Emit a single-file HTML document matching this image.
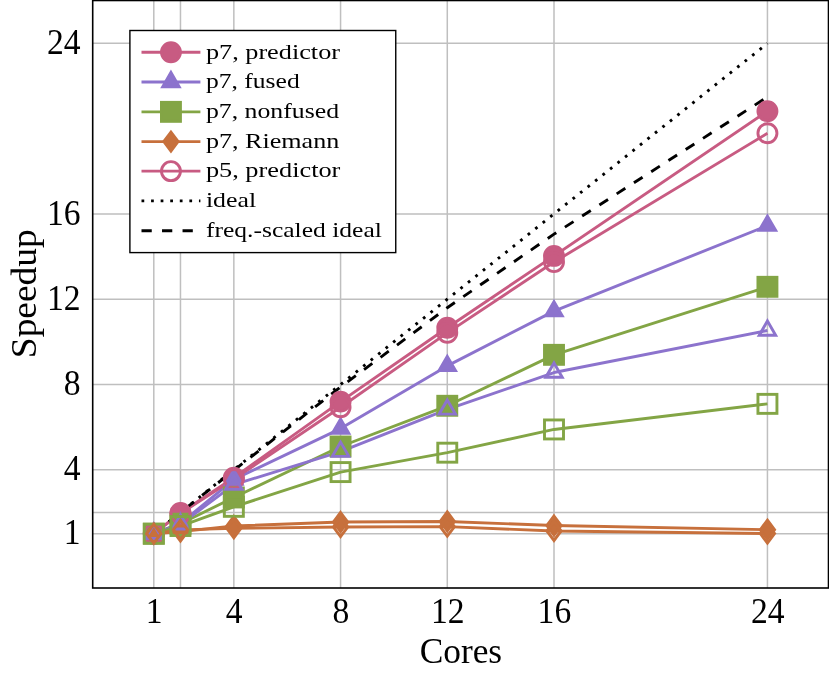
<!DOCTYPE html>
<html><head><meta charset="utf-8"><title>Speedup</title>
<style>html,body{margin:0;padding:0;background:#fff}svg{display:block}</style></head>
<body>
<svg width="829" height="674" viewBox="0 0 829 674" style="display:block">
<rect width="829" height="674" fill="#fff"/>
<path d="M153.8 0.5V588.0M180.48 0.5V588.0M233.84 0.5V588.0M340.56 0.5V588.0M447.28 0.5V588.0M554 0.5V588.0M767.44 0.5V588.0M92.7 533.7H828.5M92.7 512.38H828.5M92.7 469.74H828.5M92.7 384.46H828.5M92.7 299.18H828.5M92.7 213.9H828.5M92.7 43.34H828.5" stroke="#BFBFBF" stroke-width="1.5" fill="none"/>
<polyline points="153.8,533.7 180.48,512.91 233.84,477.63 340.56,401.62 447.28,327.75 554,255.9 767.44,111.14" fill="none" stroke="#C85B82" stroke-width="2.9" stroke-linejoin="round"/>
<polyline points="153.8,533.7 180.48,523.47 233.84,479.55 340.56,428.59 447.28,365.91 554,311.12 767.44,225.63" fill="none" stroke="#8C73CD" stroke-width="2.9" stroke-linejoin="round"/>
<polyline points="153.8,533.7 180.48,523.68 233.84,497.46 340.56,446.5 447.28,405.78 554,354.83 767.44,286.81" fill="none" stroke="#83A545" stroke-width="2.9" stroke-linejoin="round"/>
<polyline points="153.8,533.7 180.48,531.57 233.84,526.02 340.56,522.04 447.28,521.44 554,525.53 767.44,529.65" fill="none" stroke="#C7703C" stroke-width="2.9" stroke-linejoin="round"/>
<polyline points="153.8,533.7 180.48,513.45 233.84,479.12 340.56,407.27 447.28,332.87 554,262.08 767.44,133.31" fill="none" stroke="#C85B82" stroke-width="2.9" stroke-linejoin="round"/>
<polyline points="153.8,533.7 180.48,524.32 233.84,484.66 340.56,451.62 447.28,409.4 554,372.52 767.44,330.52" fill="none" stroke="#8C73CD" stroke-width="2.9" stroke-linejoin="round"/>
<polyline points="153.8,533.7 180.48,526.02 233.84,506.84 340.56,472.09 447.28,452.68 554,429.45 767.44,403.86" fill="none" stroke="#83A545" stroke-width="2.9" stroke-linejoin="round"/>
<polyline points="153.8,533.7 180.48,529.86 233.84,528.37 340.56,527.05 447.28,526.66 554,530.97 767.44,533.61" fill="none" stroke="#C7703C" stroke-width="2.9" stroke-linejoin="round"/>
<polyline points="153.8,533.7 180.48,512.38 233.84,469.74 340.56,384.46 447.28,299.18 554,213.9 767.44,43.34" fill="none" stroke="#000" stroke-width="2.9" stroke-dasharray="2.74 6.835"/>
<polyline points="153.8,533.7 180.48,512.49 233.84,470.38 340.56,387.02 447.28,307.71 554,234.15 767.44,96.96" fill="none" stroke="#000" stroke-width="2.9" stroke-dasharray="10.26 10.26"/>
<circle cx="153.8" cy="533.7" r="9.5" fill="#C85B82" stroke="#C85B82" stroke-width="2.9" stroke-linejoin="miter" stroke-miterlimit="10"/>
<circle cx="180.48" cy="512.91" r="9.5" fill="#C85B82" stroke="#C85B82" stroke-width="2.9" stroke-linejoin="miter" stroke-miterlimit="10"/>
<circle cx="233.84" cy="477.63" r="9.5" fill="#C85B82" stroke="#C85B82" stroke-width="2.9" stroke-linejoin="miter" stroke-miterlimit="10"/>
<circle cx="340.56" cy="401.62" r="9.5" fill="#C85B82" stroke="#C85B82" stroke-width="2.9" stroke-linejoin="miter" stroke-miterlimit="10"/>
<circle cx="447.28" cy="327.75" r="9.5" fill="#C85B82" stroke="#C85B82" stroke-width="2.9" stroke-linejoin="miter" stroke-miterlimit="10"/>
<circle cx="554" cy="255.9" r="9.5" fill="#C85B82" stroke="#C85B82" stroke-width="2.9" stroke-linejoin="miter" stroke-miterlimit="10"/>
<circle cx="767.44" cy="111.14" r="9.5" fill="#C85B82" stroke="#C85B82" stroke-width="2.9" stroke-linejoin="miter" stroke-miterlimit="10"/>
<path d="M153.8 524.2L162.03 538.45L145.57 538.45Z" fill="#8C73CD" stroke="#8C73CD" stroke-width="2.9" stroke-linejoin="miter" stroke-miterlimit="10"/>
<path d="M180.48 513.97L188.71 528.22L172.25 528.22Z" fill="#8C73CD" stroke="#8C73CD" stroke-width="2.9" stroke-linejoin="miter" stroke-miterlimit="10"/>
<path d="M233.84 470.05L242.07 484.3L225.61 484.3Z" fill="#8C73CD" stroke="#8C73CD" stroke-width="2.9" stroke-linejoin="miter" stroke-miterlimit="10"/>
<path d="M340.56 419.09L348.79 433.34L332.33 433.34Z" fill="#8C73CD" stroke="#8C73CD" stroke-width="2.9" stroke-linejoin="miter" stroke-miterlimit="10"/>
<path d="M447.28 356.41L455.51 370.66L439.05 370.66Z" fill="#8C73CD" stroke="#8C73CD" stroke-width="2.9" stroke-linejoin="miter" stroke-miterlimit="10"/>
<path d="M554 301.62L562.23 315.87L545.77 315.87Z" fill="#8C73CD" stroke="#8C73CD" stroke-width="2.9" stroke-linejoin="miter" stroke-miterlimit="10"/>
<path d="M767.44 216.13L775.67 230.38L759.21 230.38Z" fill="#8C73CD" stroke="#8C73CD" stroke-width="2.9" stroke-linejoin="miter" stroke-miterlimit="10"/>
<rect x="144.3" y="524.2" width="19.0" height="19.0" fill="#83A545" stroke="#83A545" stroke-width="2.9" stroke-linejoin="miter" stroke-miterlimit="10"/>
<rect x="170.98" y="514.18" width="19.0" height="19.0" fill="#83A545" stroke="#83A545" stroke-width="2.9" stroke-linejoin="miter" stroke-miterlimit="10"/>
<rect x="224.34" y="487.96" width="19.0" height="19.0" fill="#83A545" stroke="#83A545" stroke-width="2.9" stroke-linejoin="miter" stroke-miterlimit="10"/>
<rect x="331.06" y="437" width="19.0" height="19.0" fill="#83A545" stroke="#83A545" stroke-width="2.9" stroke-linejoin="miter" stroke-miterlimit="10"/>
<rect x="437.78" y="396.28" width="19.0" height="19.0" fill="#83A545" stroke="#83A545" stroke-width="2.9" stroke-linejoin="miter" stroke-miterlimit="10"/>
<rect x="544.5" y="345.33" width="19.0" height="19.0" fill="#83A545" stroke="#83A545" stroke-width="2.9" stroke-linejoin="miter" stroke-miterlimit="10"/>
<rect x="757.94" y="277.31" width="19.0" height="19.0" fill="#83A545" stroke="#83A545" stroke-width="2.9" stroke-linejoin="miter" stroke-miterlimit="10"/>
<path d="M153.8 524.2L160.93 533.7L153.8 543.2L146.68 533.7Z" fill="#C7703C" stroke="#C7703C" stroke-width="2.9" stroke-linejoin="miter" stroke-miterlimit="10"/>
<path d="M180.48 522.07L187.61 531.57L180.48 541.07L173.36 531.57Z" fill="#C7703C" stroke="#C7703C" stroke-width="2.9" stroke-linejoin="miter" stroke-miterlimit="10"/>
<path d="M233.84 516.52L240.97 526.02L233.84 535.52L226.72 526.02Z" fill="#C7703C" stroke="#C7703C" stroke-width="2.9" stroke-linejoin="miter" stroke-miterlimit="10"/>
<path d="M340.56 512.54L347.69 522.04L340.56 531.54L333.44 522.04Z" fill="#C7703C" stroke="#C7703C" stroke-width="2.9" stroke-linejoin="miter" stroke-miterlimit="10"/>
<path d="M447.28 511.94L454.41 521.44L447.28 530.94L440.16 521.44Z" fill="#C7703C" stroke="#C7703C" stroke-width="2.9" stroke-linejoin="miter" stroke-miterlimit="10"/>
<path d="M554 516.03L561.12 525.53L554 535.03L546.88 525.53Z" fill="#C7703C" stroke="#C7703C" stroke-width="2.9" stroke-linejoin="miter" stroke-miterlimit="10"/>
<path d="M767.44 520.15L774.57 529.65L767.44 539.15L760.32 529.65Z" fill="#C7703C" stroke="#C7703C" stroke-width="2.9" stroke-linejoin="miter" stroke-miterlimit="10"/>
<circle cx="153.8" cy="533.7" r="9.5" fill="none" stroke="#C85B82" stroke-width="2.9" stroke-linejoin="miter" stroke-miterlimit="10"/>
<circle cx="180.48" cy="513.45" r="9.5" fill="none" stroke="#C85B82" stroke-width="2.9" stroke-linejoin="miter" stroke-miterlimit="10"/>
<circle cx="233.84" cy="479.12" r="9.5" fill="none" stroke="#C85B82" stroke-width="2.9" stroke-linejoin="miter" stroke-miterlimit="10"/>
<circle cx="340.56" cy="407.27" r="9.5" fill="none" stroke="#C85B82" stroke-width="2.9" stroke-linejoin="miter" stroke-miterlimit="10"/>
<circle cx="447.28" cy="332.87" r="9.5" fill="none" stroke="#C85B82" stroke-width="2.9" stroke-linejoin="miter" stroke-miterlimit="10"/>
<circle cx="554" cy="262.08" r="9.5" fill="none" stroke="#C85B82" stroke-width="2.9" stroke-linejoin="miter" stroke-miterlimit="10"/>
<circle cx="767.44" cy="133.31" r="9.5" fill="none" stroke="#C85B82" stroke-width="2.9" stroke-linejoin="miter" stroke-miterlimit="10"/>
<path d="M153.8 524.2L162.03 538.45L145.57 538.45Z" fill="none" stroke="#8C73CD" stroke-width="2.9" stroke-linejoin="miter" stroke-miterlimit="10"/>
<path d="M180.48 514.82L188.71 529.07L172.25 529.07Z" fill="none" stroke="#8C73CD" stroke-width="2.9" stroke-linejoin="miter" stroke-miterlimit="10"/>
<path d="M233.84 475.16L242.07 489.41L225.61 489.41Z" fill="none" stroke="#8C73CD" stroke-width="2.9" stroke-linejoin="miter" stroke-miterlimit="10"/>
<path d="M340.56 442.12L348.79 456.37L332.33 456.37Z" fill="none" stroke="#8C73CD" stroke-width="2.9" stroke-linejoin="miter" stroke-miterlimit="10"/>
<path d="M447.28 399.9L455.51 414.15L439.05 414.15Z" fill="none" stroke="#8C73CD" stroke-width="2.9" stroke-linejoin="miter" stroke-miterlimit="10"/>
<path d="M554 363.02L562.23 377.27L545.77 377.27Z" fill="none" stroke="#8C73CD" stroke-width="2.9" stroke-linejoin="miter" stroke-miterlimit="10"/>
<path d="M767.44 321.02L775.67 335.27L759.21 335.27Z" fill="none" stroke="#8C73CD" stroke-width="2.9" stroke-linejoin="miter" stroke-miterlimit="10"/>
<rect x="144.3" y="524.2" width="19.0" height="19.0" fill="none" stroke="#83A545" stroke-width="2.9" stroke-linejoin="miter" stroke-miterlimit="10"/>
<rect x="170.98" y="516.52" width="19.0" height="19.0" fill="none" stroke="#83A545" stroke-width="2.9" stroke-linejoin="miter" stroke-miterlimit="10"/>
<rect x="224.34" y="497.34" width="19.0" height="19.0" fill="none" stroke="#83A545" stroke-width="2.9" stroke-linejoin="miter" stroke-miterlimit="10"/>
<rect x="331.06" y="462.59" width="19.0" height="19.0" fill="none" stroke="#83A545" stroke-width="2.9" stroke-linejoin="miter" stroke-miterlimit="10"/>
<rect x="437.78" y="443.18" width="19.0" height="19.0" fill="none" stroke="#83A545" stroke-width="2.9" stroke-linejoin="miter" stroke-miterlimit="10"/>
<rect x="544.5" y="419.95" width="19.0" height="19.0" fill="none" stroke="#83A545" stroke-width="2.9" stroke-linejoin="miter" stroke-miterlimit="10"/>
<rect x="757.94" y="394.36" width="19.0" height="19.0" fill="none" stroke="#83A545" stroke-width="2.9" stroke-linejoin="miter" stroke-miterlimit="10"/>
<path d="M153.8 524.2L160.93 533.7L153.8 543.2L146.68 533.7Z" fill="none" stroke="#C7703C" stroke-width="2.9" stroke-linejoin="miter" stroke-miterlimit="10"/>
<path d="M180.48 520.36L187.61 529.86L180.48 539.36L173.36 529.86Z" fill="none" stroke="#C7703C" stroke-width="2.9" stroke-linejoin="miter" stroke-miterlimit="10"/>
<path d="M233.84 518.87L240.97 528.37L233.84 537.87L226.72 528.37Z" fill="none" stroke="#C7703C" stroke-width="2.9" stroke-linejoin="miter" stroke-miterlimit="10"/>
<path d="M340.56 517.55L347.69 527.05L340.56 536.55L333.44 527.05Z" fill="none" stroke="#C7703C" stroke-width="2.9" stroke-linejoin="miter" stroke-miterlimit="10"/>
<path d="M447.28 517.16L454.41 526.66L447.28 536.16L440.16 526.66Z" fill="none" stroke="#C7703C" stroke-width="2.9" stroke-linejoin="miter" stroke-miterlimit="10"/>
<path d="M554 521.47L561.12 530.97L554 540.47L546.88 530.97Z" fill="none" stroke="#C7703C" stroke-width="2.9" stroke-linejoin="miter" stroke-miterlimit="10"/>
<path d="M767.44 524.11L774.57 533.61L767.44 543.11L760.32 533.61Z" fill="none" stroke="#C7703C" stroke-width="2.9" stroke-linejoin="miter" stroke-miterlimit="10"/>
<rect x="92.7" y="0.5" width="735.8" height="587.5" fill="none" stroke="#000" stroke-width="1.6"/>
<rect x="129.9" y="30.5" width="265.85" height="222.1" fill="#fff" stroke="#000" stroke-width="1.4"/>
<path d="M141.5 52.3H200.4" stroke="#C85B82" stroke-width="2.9"/>
<circle cx="170.95" cy="52.3" r="9.5" fill="#C85B82" stroke="#C85B82" stroke-width="2.9" stroke-linejoin="miter" stroke-miterlimit="10"/>
<path d="M141.5 82.0H200.4" stroke="#8C73CD" stroke-width="2.9"/>
<path d="M170.95 72.5L179.18 86.75L162.72 86.75Z" fill="#8C73CD" stroke="#8C73CD" stroke-width="2.9" stroke-linejoin="miter" stroke-miterlimit="10"/>
<path d="M141.5 111.85H200.4" stroke="#83A545" stroke-width="2.9"/>
<rect x="161.45" y="102.35" width="19.0" height="19.0" fill="#83A545" stroke="#83A545" stroke-width="2.9" stroke-linejoin="miter" stroke-miterlimit="10"/>
<path d="M141.5 141.6H200.4" stroke="#C7703C" stroke-width="2.9"/>
<path d="M170.95 132.1L178.07 141.6L170.95 151.1L163.82 141.6Z" fill="#C7703C" stroke="#C7703C" stroke-width="2.9" stroke-linejoin="miter" stroke-miterlimit="10"/>
<path d="M141.5 171.15H200.4" stroke="#C85B82" stroke-width="2.9"/>
<circle cx="170.95" cy="171.15" r="9.5" fill="none" stroke="#C85B82" stroke-width="2.9" stroke-linejoin="miter" stroke-miterlimit="10"/>
<path d="M141.5 200.9H200.4" stroke="#000" stroke-width="2.9" stroke-dasharray="2.74 6.835"/>
<path d="M141.5 230.8H200.4" stroke="#000" stroke-width="2.9" stroke-dasharray="10.26 10.26"/>
<g font-family="'Liberation Serif', serif" font-size="21" fill="#000">
<text x="205.9" y="58.6" textLength="134.1" lengthAdjust="spacingAndGlyphs">p7, predictor</text>
<text x="205.9" y="88.3" textLength="93.8" lengthAdjust="spacingAndGlyphs">p7, fused</text>
<text x="205.9" y="118.15" textLength="133.2" lengthAdjust="spacingAndGlyphs">p7, nonfused</text>
<text x="205.9" y="147.9" textLength="133.4" lengthAdjust="spacingAndGlyphs">p7, Riemann</text>
<text x="205.9" y="177.45" textLength="134.5" lengthAdjust="spacingAndGlyphs">p5, predictor</text>
<text x="205.9" y="207.2" textLength="50.2" lengthAdjust="spacingAndGlyphs">ideal</text>
<text x="205.9" y="237.1" textLength="176.0" lengthAdjust="spacingAndGlyphs">freq.-scaled ideal</text>
</g>
<g font-family="'Liberation Serif', serif" font-size="35" fill="#000">
<text x="154.2" y="622.6" text-anchor="middle" textLength="16.8" lengthAdjust="spacingAndGlyphs">1</text>
<text x="234.24" y="622.6" text-anchor="middle" textLength="16.8" lengthAdjust="spacingAndGlyphs">4</text>
<text x="340.96" y="622.6" text-anchor="middle" textLength="16.8" lengthAdjust="spacingAndGlyphs">8</text>
<text x="447.68" y="622.6" text-anchor="middle" textLength="33.6" lengthAdjust="spacingAndGlyphs">12</text>
<text x="554.4" y="622.6" text-anchor="middle" textLength="33.6" lengthAdjust="spacingAndGlyphs">16</text>
<text x="767.84" y="622.6" text-anchor="middle" textLength="33.6" lengthAdjust="spacingAndGlyphs">24</text>
<text x="80.6" y="544.3" text-anchor="end" textLength="16.8" lengthAdjust="spacingAndGlyphs">1</text>
<text x="80.6" y="480.34" text-anchor="end" textLength="16.8" lengthAdjust="spacingAndGlyphs">4</text>
<text x="80.6" y="395.06" text-anchor="end" textLength="16.8" lengthAdjust="spacingAndGlyphs">8</text>
<text x="80.6" y="309.78" text-anchor="end" textLength="33.6" lengthAdjust="spacingAndGlyphs">12</text>
<text x="80.6" y="224.5" text-anchor="end" textLength="33.6" lengthAdjust="spacingAndGlyphs">16</text>
<text x="80.6" y="53.94" text-anchor="end" textLength="33.6" lengthAdjust="spacingAndGlyphs">24</text>
</g>
<g font-family="'Liberation Serif', serif" font-size="36" fill="#000">
<text x="460.9" y="663" text-anchor="middle" textLength="82.5" lengthAdjust="spacingAndGlyphs">Cores</text>
<text transform="translate(35.6 293.7) rotate(-90)" text-anchor="middle" textLength="129" lengthAdjust="spacingAndGlyphs">Speedup</text>
</g>
</svg>
</body></html>
